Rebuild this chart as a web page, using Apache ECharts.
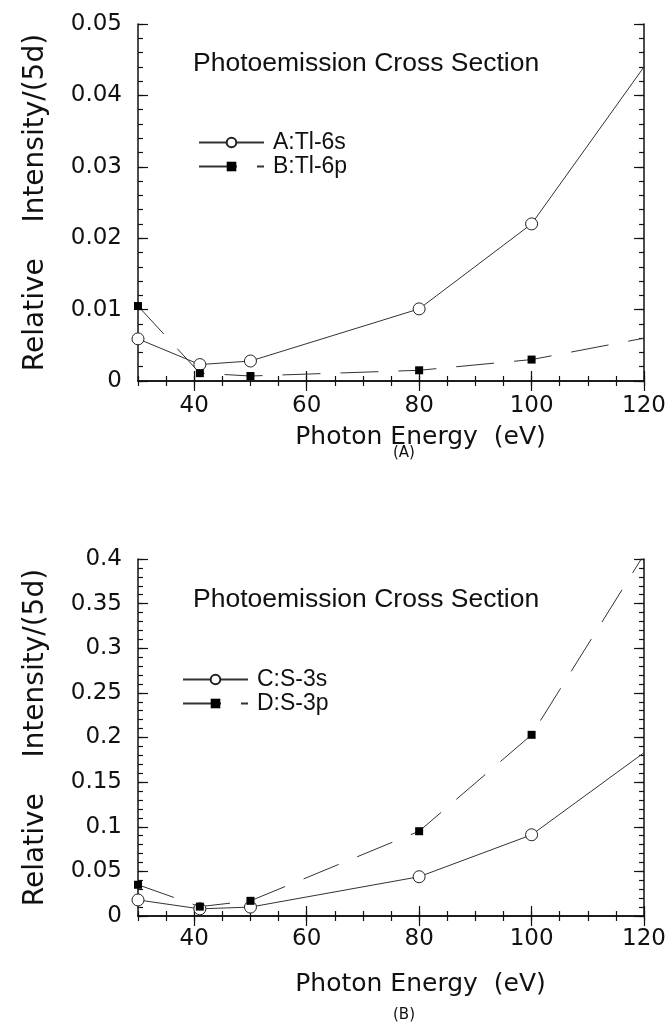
<!DOCTYPE html>
<html>
<head>
<meta charset="utf-8">
<style>html,body{margin:0;padding:0;background:#fff}#c{width:669px;height:1025px}</style>
<script src="https://cdn.jsdelivr.net/npm/echarts@6/dist/echarts.min.js"></script>
</head>
<body>
<div id="c"></div>
<script>
// ---- data ----
const energy = [30, 41, 50, 80, 100, 120];
const tl6s = [0.0059, 0.0023, 0.0028, 0.0101, 0.022, 0.044];
const tl6p = [0.0105, 0.0011, 0.0007, 0.0015, 0.003, 0.006];
const s3s = [0.018, 0.008, 0.010, 0.044, 0.091, 0.183];
const s3p = [0.035, 0.0105, 0.017, 0.095, 0.203, 0.405];
const xLabelValues = [40, 60, 80, 100, 120];
const yLabelsTop = [0, 0.01, 0.02, 0.03, 0.04, 0.05];
const yLabelsBottom = [0, 0.05, 0.1, 0.15, 0.2, 0.25, 0.3, 0.35, 0.4];
const names = { a: 'A:Tl-6s', b: 'B:Tl-6p', c: 'C:S-3s', d: 'D:S-3p' };
const chartTitle = 'Photoemission Cross Section';
const xName = 'Photon Energy  (eV)';
const yName = 'Relative    Intensity/(5d)';

const chart = echarts.init(document.getElementById('c'), null, { renderer: 'canvas' });
const INK = '#111';
const tickFont = { fontFamily: 'DejaVu Sans', fontSize: 23, color: INK };

function pts(xs, ys) {
  return xs.map((x, i) => i === xs.length - 1 ? { value: [x, ys[i]], symbol: 'none' } : [x, ys[i]]);
}
function fmt(v) { return v === 0 ? '0' : String(+(+v).toFixed(3)); }

function xAxes(grid, labelMargin, nameGap) {
  const base = { type: 'value', gridIndex: grid, min: 30, max: 120, splitLine: { show: false } };
  return [
    Object.assign({}, base, {
      position: 'bottom', interval: 5,
      axisLine: { show: true, lineStyle: { color: INK, width: 1.5 } },
      axisTick: { show: true, inside: true, length: 5, lineStyle: { color: INK, width: 1.2 } },
      axisLabel: Object.assign({ margin: labelMargin, customValues: xLabelValues,
        formatter: v => (v % 20 === 0 && v >= 40) ? String(v) : '' }, tickFont),
      name: xName, nameLocation: 'middle', nameGap: nameGap,
      nameTextStyle: { fontFamily: 'DejaVu Sans', fontSize: 25, color: INK, padding: [0, 0, 0, 59] }
    }),
    Object.assign({}, base, {
      position: 'bottom',
      axisLine: { show: false },
      axisTick: { show: true, inside: true, length: 10, customValues: xLabelValues, lineStyle: { color: INK, width: 1.2 } },
      axisLabel: { show: false }
    }),
    Object.assign({}, base, {
      position: 'top', interval: 5,
      axisLine: { show: true, lineStyle: { color: INK, width: 1.5 } },
      axisTick: { show: true, inside: true, length: 5, lineStyle: { color: INK, width: 1.2 } },
      axisLabel: { show: false }
    }),
    Object.assign({}, base, {
      position: 'top',
      axisLine: { show: false },
      axisTick: { show: true, inside: true, length: 10, customValues: xLabelValues, lineStyle: { color: INK, width: 1.2 } },
      axisLabel: { show: false }
    })
  ];
}
function yAxes(grid, max, minor, labels) {
  const base = { type: 'value', gridIndex: grid, min: 0, max: max, splitLine: { show: false } };
  return [
    Object.assign({}, base, {
      position: 'left', interval: minor,
      axisLine: { show: true, lineStyle: { color: INK, width: 1.5 } },
      axisTick: { show: true, inside: true, length: 5, lineStyle: { color: INK, width: 1.2 } },
      axisLabel: Object.assign({ margin: 16, customValues: labels, formatter: fmt }, tickFont),
      name: yName, nameLocation: 'middle', nameRotate: 90, nameGap: 88,
      nameTextStyle: { fontFamily: 'DejaVu Sans', fontSize: 28, color: INK }
    }),
    Object.assign({}, base, {
      position: 'left',
      axisLine: { show: false },
      axisTick: { show: true, inside: true, length: 10, customValues: labels, lineStyle: { color: INK, width: 1.2 } },
      axisLabel: { show: false }
    }),
    Object.assign({}, base, {
      position: 'right', interval: minor,
      axisLine: { show: true, lineStyle: { color: INK, width: 1.5 } },
      axisTick: { show: true, inside: true, length: 5, lineStyle: { color: INK, width: 1.2 } },
      axisLabel: { show: false }
    }),
    Object.assign({}, base, {
      position: 'right',
      axisLine: { show: false },
      axisTick: { show: true, inside: true, length: 10, customValues: labels, lineStyle: { color: INK, width: 1.2 } },
      axisLabel: { show: false }
    })
  ];
}
const lineCol = '#333';
function circleSeries(name, xi, yi, data) {
  return { name, type: 'line', xAxisIndex: xi, yAxisIndex: yi, data,
    symbol: 'circle', symbolSize: 12, showSymbol: true,
    itemStyle: { color: '#fff', borderColor: '#222', borderWidth: 1 },
    lineStyle: { color: lineCol, width: 1, type: 'solid' }, z: 3, animation: false };
}
function squareSeries(name, xi, yi, data) {
  return { name, type: 'line', xAxisIndex: xi, yAxisIndex: yi, data,
    symbol: 'rect', symbolSize: 8, showSymbol: true,
    itemStyle: { color: '#000', borderColor: '#000', borderWidth: 0 },
    lineStyle: { color: lineCol, width: 1, type: [38, 20] }, z: 3, animation: false };
}
const legendText = { fontFamily: 'Liberation Sans', fontSize: 23, color: INK, lineHeight: 23, padding: [0, 0, 0, 4] };
const option = {
  backgroundColor: '#fff',
  animation: false,
  title: [
    { text: chartTitle, left: 193, top: 50, padding: 0, textStyle: { fontFamily: 'Liberation Sans', fontSize: 26.5, fontWeight: 'normal', color: INK } },
    { text: chartTitle, left: 193, top: 586, padding: 0, textStyle: { fontFamily: 'Liberation Sans', fontSize: 26.5, fontWeight: 'normal', color: INK } },
    { text: '(A)', left: 393, top: 446, padding: 0, textStyle: { fontFamily: 'DejaVu Sans', fontSize: 15, fontWeight: 'normal', color: INK } },
    { text: '(B)', left: 393, top: 1008, padding: 0, textStyle: { fontFamily: 'DejaVu Sans', fontSize: 15, fontWeight: 'normal', color: INK } }
  ],
  legend: [
    { data: [names.a, names.b], orient: 'vertical', left: 198, top: 131, itemWidth: 65, itemHeight: 12, itemGap: 1, padding: 0, textStyle: legendText },
    { data: [names.c, names.d], orient: 'vertical', left: 182, top: 668, itemWidth: 65, itemHeight: 12, itemGap: 1, padding: 0, textStyle: legendText }
  ],
  grid: [
    { left: 138, right: 24, top: 24, height: 357, containLabel: false },
    { left: 138, right: 24, top: 559, height: 357, containLabel: false }
  ],
  xAxis: xAxes(0, 14, 44).concat(xAxes(1, 12, 56)),
  yAxis: yAxes(0, 0.05, 0.002, yLabelsTop).concat(yAxes(1, 0.4, 0.01, yLabelsBottom)),
  series: [
    circleSeries(names.a, 0, 0, pts(energy, tl6s)),
    squareSeries(names.b, 0, 0, pts(energy, tl6p)),
    circleSeries(names.c, 4, 4, pts(energy, s3s)),
    squareSeries(names.d, 4, 4, pts(energy, s3p))
  ]
};
chart.setOption(option);
</script>
</body>
</html>
